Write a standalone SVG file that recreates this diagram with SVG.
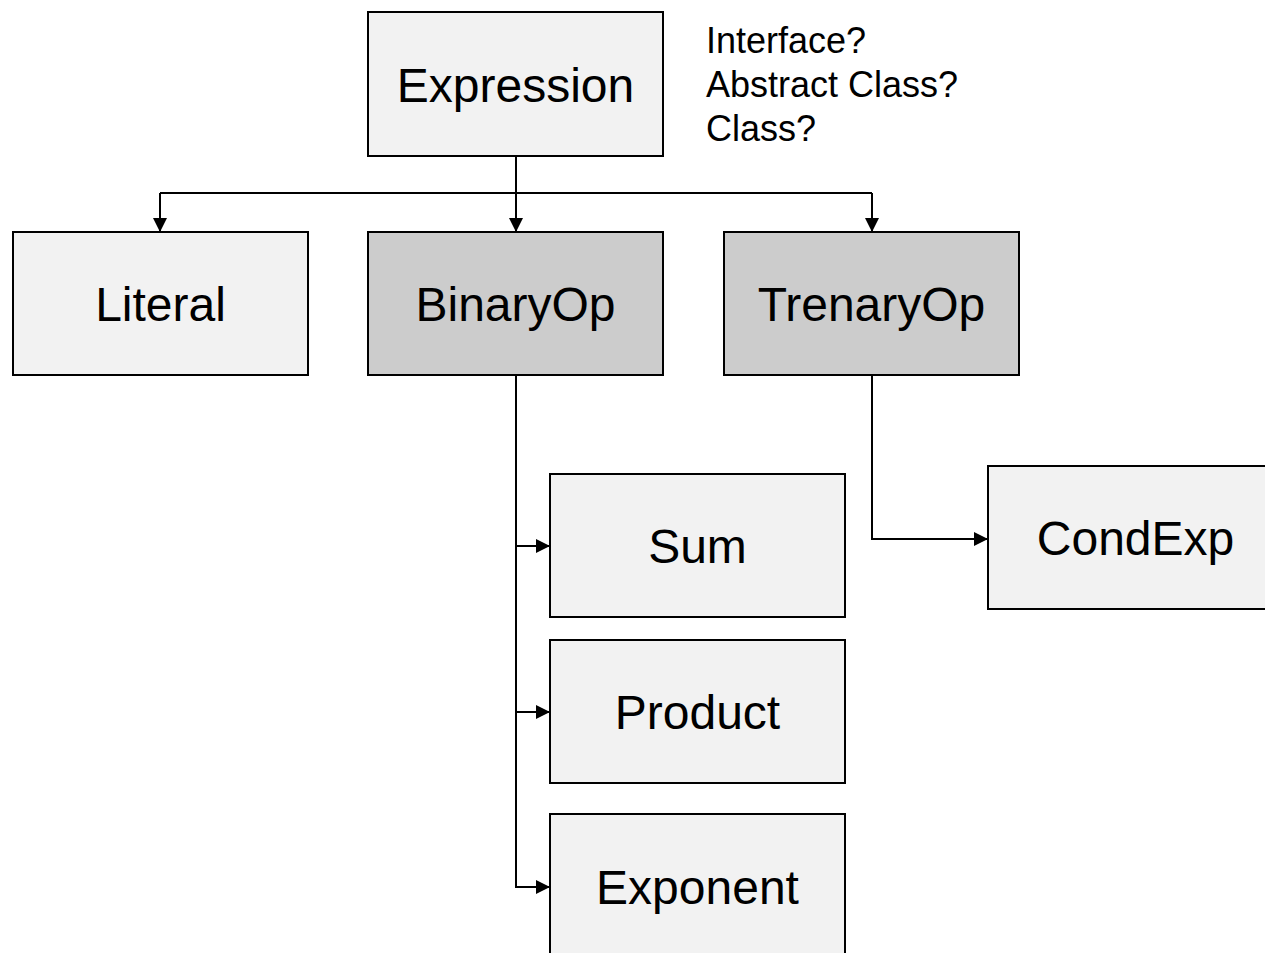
<svg xmlns="http://www.w3.org/2000/svg" width="1265" height="953" viewBox="0 0 1265 953">
  <style>
    .box { stroke: #000; stroke-width: 2; }
    .light { fill: #f2f2f2; }
    .dark { fill: #cccccc; }
    .label { font-family: "Liberation Sans", Arial, sans-serif; font-size: 48px; fill: #000; text-anchor: middle; }
    .note { font-family: "Liberation Sans", Arial, sans-serif; font-size: 36px; fill: #000; }
    .edge { fill: none; stroke: #000; stroke-width: 2; }
  </style>
  <defs>
    <marker id="arrow" viewBox="0 0 10 10" refX="10" refY="5" markerWidth="14" markerHeight="14" markerUnits="userSpaceOnUse" orient="auto">
      <path d="M0,0 L10,5 L0,10 Z" fill="#000"/>
    </marker>
  </defs>
  <rect width="1265" height="953" fill="#fff"/>

  <g id="connectors">
    <path class="edge" d="M516,156 V193 M160,193 H872" />
    <path class="edge" d="M160,193 V232" marker-end="url(#arrow)"/>
    <path class="edge" d="M516,193 V232" marker-end="url(#arrow)"/>
    <path class="edge" d="M872,193 V232" marker-end="url(#arrow)"/>
    <path class="edge" d="M516,375 V546 H550" marker-end="url(#arrow)"/>
    <path class="edge" d="M516,546 V712 H550" marker-end="url(#arrow)"/>
    <path class="edge" d="M516,712 V887 H550" marker-end="url(#arrow)"/>
    <path class="edge" d="M872,375 V539 H988" marker-end="url(#arrow)"/>
  </g>

  <g id="expression">
    <rect class="box light" x="368" y="12" width="295" height="144"/>
    <text class="label" x="515.5" y="102">Expression</text>
  </g>

  <g id="expression-note">
    <text class="note" x="706" y="53">Interface?</text>
    <text class="note" x="706" y="97">Abstract Class?</text>
    <text class="note" x="706" y="141">Class?</text>
  </g>

  <g id="literal">
    <rect class="box light" x="13" y="232" width="295" height="143"/>
    <text class="label" x="160.5" y="321">Literal</text>
  </g>

  <g id="binaryop">
    <rect class="box dark" x="368" y="232" width="295" height="143"/>
    <text class="label" x="515.5" y="321">BinaryOp</text>
  </g>

  <g id="trenaryop">
    <rect class="box dark" x="724" y="232" width="295" height="143"/>
    <text class="label" x="871.5" y="321">TrenaryOp</text>
  </g>

  <g id="sum">
    <rect class="box light" x="550" y="474" width="295" height="143"/>
    <text class="label" x="697.5" y="563">Sum</text>
  </g>

  <g id="product">
    <rect class="box light" x="550" y="640" width="295" height="143"/>
    <text class="label" x="697.5" y="729">Product</text>
  </g>

  <g id="exponent">
    <rect class="box light" x="550" y="814" width="295" height="143"/>
    <text class="label" x="697.5" y="904">Exponent</text>
  </g>

  <g id="condexp">
    <rect class="box light" x="988" y="466" width="295" height="143"/>
    <text class="label" x="1135.5" y="555">CondExp</text>
  </g>
</svg>
